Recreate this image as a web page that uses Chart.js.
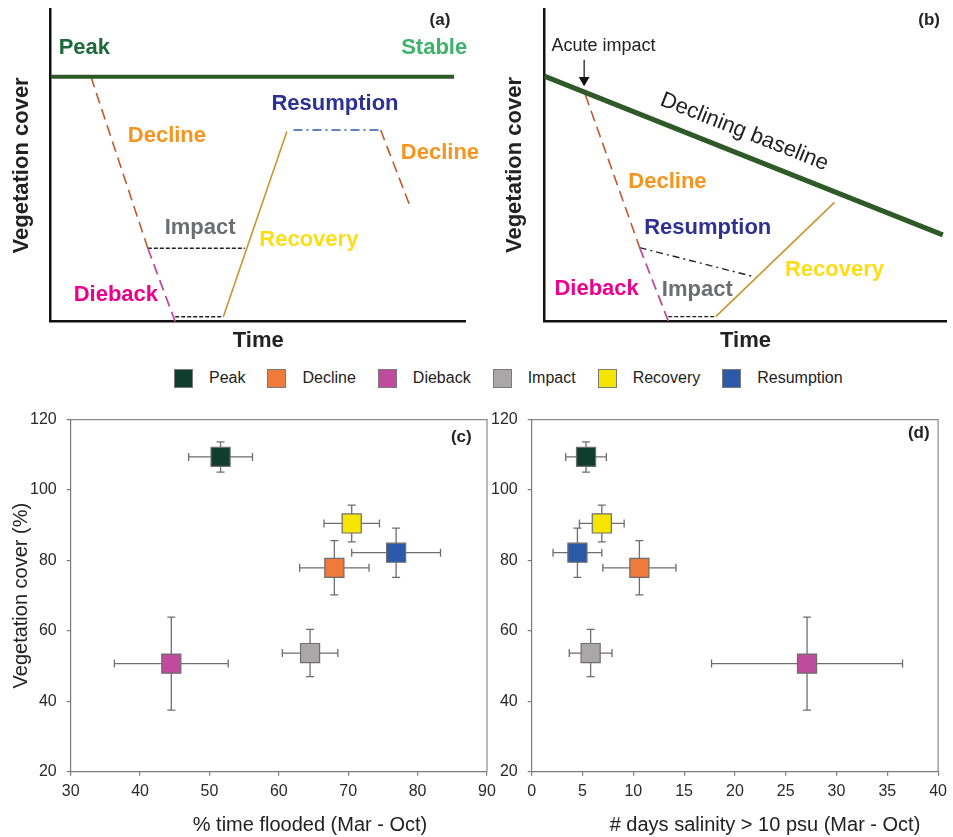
<!DOCTYPE html>
<html>
<head>
<meta charset="utf-8">
<script src="https://cdn.jsdelivr.net/npm/chart.js@4.4.1/dist/chart.umd.min.js"></script>
<style>
  body { margin: 0; background: #fff; width: 953px; height: 837px; position: relative; overflow: hidden;
         font-family: 'Liberation Sans', Arial, sans-serif; }
  canvas { position: absolute; }
  #legend { position: absolute; left: 174px; top: 368px; height: 20px; display: flex; align-items: center;
            font-size: 16px; color: #222; }
  .sw { width: 17px; height: 17px; border: 1px solid #7a7a7a; margin-right: 16px; }
  .lab { margin-right: 22px; }
</style>
</head>
<body>
<canvas id="chartA" width="480" height="360" style="left:0;top:0"></canvas>
<canvas id="chartB" width="473" height="360" style="left:480px;top:0"></canvas>
<div id="legend"></div>
<canvas id="chartC" width="505" height="437" style="left:0;top:400px"></canvas>
<canvas id="chartD" width="463" height="437" style="left:490px;top:400px"></canvas>
<script>
// categories and measured values (panels c, d)
const categories = ['Peak', 'Decline', 'Dieback', 'Impact', 'Recovery', 'Resumption'];
const categoryColors = ['#0f3e2f', '#ee7a3b', '#c04b9c', '#a9a7a7', '#f6e500', '#2c5aa8'];
const coverMean = [109.4, 77.9, 50.7, 53.7, 90.5, 82.2];
const coverErr = [4.3, 7.7, 13.2, 6.7, 5.2, 7.0];
const floodMean = [51.6, 68.0, 44.5, 64.5, 70.5, 76.9];
const floodErr = [4.6, 5.0, 8.2, 4.0, 4.0, 6.4];
const salinityMean = [5.35, 10.6, 27.1, 5.8, 6.9, 4.5];
const salinityErr = [2.0, 3.6, 9.4, 2.1, 2.2, 2.4];
const coverTicks = [20, 40, 60, 80, 100, 120];
const floodTicks = [30, 40, 50, 60, 70, 80, 90];
const salinityTicks = [0, 5, 10, 15, 20, 25, 30, 35, 40];

// conceptual trajectories (panels a, b), in 0-100 units of time / cover
const aPeak = [[0, 78.3], [97.2, 78.3]];
const aDecline = [[9.7, 78.3], [23.4, 23.5]];
const aDieback = [[23.4, 23.5], [30.0, 0]];
const aImpact = [[23.4, 23.5], [46.8, 23.5]];
const aBottom = [[30.0, 1.6], [41.6, 1.6]];
const aRecovery = [[41.6, 1.6], [56.9, 60.8]];
const aResumption = [[58.5, 61.3], [79.5, 61.3]];
const aDecline2 = [[79.5, 61.3], [86.6, 36.9]];

const bBaseline = [[0, 78.5], [99, 27.6]];
const bArrow = [[9.9, 83.7], [9.9, 77.2]];
const bDecline = [[10.2, 72.5], [23.7, 23.5]];
const bDieback = [[23.7, 23.5], [30.8, 0]];
const bResumption = [[23.7, 23.5], [51.5, 14.4]];
const bBottom = [[30.8, 1.4], [42.6, 1.4]];
const bRecovery = [[42.6, 1.4], [72.1, 38.0]];

Chart.defaults.font.family = "'Liberation Sans', Arial, sans-serif";
Chart.defaults.color = '#222';

const textLabels = {
  id: 'textLabels',
  afterDatasetsDraw(chart, args, opts) {
    const ctx = chart.ctx;
    const xs = chart.scales.x, ys = chart.scales.y;
    (opts.items || []).forEach(it => {
      const px = it.px !== undefined ? it.px : xs.getPixelForValue(it.x);
      const py = it.py !== undefined ? it.py : ys.getPixelForValue(it.y);
      ctx.save();
      ctx.translate(px, py);
      if (it.rotate) ctx.rotate(it.rotate * Math.PI / 180);
      ctx.font = it.font;
      ctx.fillStyle = it.color || '#222';
      ctx.textAlign = 'center';
      ctx.textBaseline = 'middle';
      ctx.fillText(it.text, 0, 0);
      ctx.restore();
    });
  }
};

const errorBars = {
  id: 'errorBars',
  beforeDatasetsDraw(chart, args, opts) {
    const ctx = chart.ctx, xs = chart.scales.x, ys = chart.scales.y;
    const data = chart.data.datasets[0].data;
    const c = 4;
    ctx.save();
    ctx.strokeStyle = '#6e6e6e';
    ctx.lineWidth = 1.3;
    ctx.beginPath();
    data.forEach((p, i) => {
      const cx = xs.getPixelForValue(p.x), cy = ys.getPixelForValue(p.y);
      const x0 = xs.getPixelForValue(p.x - opts.xErr[i]), x1 = xs.getPixelForValue(p.x + opts.xErr[i]);
      const y0 = ys.getPixelForValue(p.y - opts.yErr[i]), y1 = ys.getPixelForValue(p.y + opts.yErr[i]);
      ctx.moveTo(x0, cy); ctx.lineTo(x1, cy);
      ctx.moveTo(x0, cy - c); ctx.lineTo(x0, cy + c);
      ctx.moveTo(x1, cy - c); ctx.lineTo(x1, cy + c);
      ctx.moveTo(cx, y0); ctx.lineTo(cx, y1);
      ctx.moveTo(cx - c, y0); ctx.lineTo(cx + c, y0);
      ctx.moveTo(cx - c, y1); ctx.lineTo(cx + c, y1);
    });
    ctx.stroke();
    ctx.restore();
  },
  afterDraw(chart) {
    const {ctx, chartArea: a} = chart;
    ctx.save();
    ctx.strokeStyle = '#8a8a8a';
    ctx.lineWidth = 1.2;
    ctx.beginPath();
    ctx.moveTo(a.left, a.top); ctx.lineTo(a.right, a.top); ctx.lineTo(a.right, a.bottom);
    ctx.stroke();
    ctx.restore();
  }
};

function seg(points, color, width, dash) {
  return {
    data: points.map(p => ({x: p[0], y: p[1]})),
    showLine: true, borderColor: color, borderWidth: width, borderDash: dash || [],
    pointRadius: 0, fill: false
  };
}

function conceptScales(yWidth, yTitlePad, xHeight, xTitlePad) {
  return {
    x: {
      type: 'linear', min: 0, max: 100,
      ticks: {display: false}, grid: {display: false},
      border: {color: '#111', width: 2.5},
      title: {display: true, text: 'Time', color: '#222', font: {size: 22, weight: 'bold'},
              padding: {top: 0, bottom: xTitlePad}},
      afterFit(s) { s.height = xHeight; }
    },
    y: {
      type: 'linear', min: 0, max: 100,
      ticks: {display: false}, grid: {display: false},
      border: {color: '#111', width: 2.5},
      title: {display: true, text: 'Vegetation cover', color: '#222', font: {size: 22, weight: 'bold'},
              padding: {top: yTitlePad, bottom: 0}},
      afterFit(s) { s.width = yWidth; }
    }
  };
}

const bold22 = "bold 22px 'Liberation Sans', Arial, sans-serif";

new Chart(document.getElementById('chartA'), {
  type: 'scatter',
  data: {
    datasets: [
      seg(aPeak, '#2e5a27', 4),
      seg(aDecline, '#c4582b', 1.6, [11, 6]),
      seg(aDieback, '#c04ba0', 1.8, [11, 6]),
      seg(aImpact, '#222', 1.4, [4, 2]),
      seg(aBottom, '#222', 1.4, [4, 2]),
      seg(aRecovery, '#c8962d', 1.6),
      seg(aResumption, '#2a5bb5', 1.4, [9, 4, 2, 4]),
      seg(aDecline2, '#c4582b', 1.6, [11, 6])
    ]
  },
  options: {
    responsive: false, animation: false,
    layout: {padding: {top: 9, right: 14.3, left: 0, bottom: 0}},
    scales: conceptScales(50.7, 8.8, 38.3, 5.8),
    plugins: {
      legend: {display: false}, tooltip: {enabled: false},
      textLabels: {items: [
        {text: '(a)', x: 93.8, y: 96.5, font: "bold 17px 'Liberation Sans', Arial, sans-serif", color: '#222'},
        {text: 'Peak', x: 8.1, y: 87.5, font: bold22, color: '#1d6b3b'},
        {text: 'Stable', x: 92.4, y: 87.5, font: bold22, color: '#3db36b'},
        {text: 'Resumption', x: 68.5, y: 69.6, font: bold22, color: '#2e3192'},
        {text: 'Decline', x: 28.0, y: 59.4, font: bold22, color: '#f7941d'},
        {text: 'Decline', x: 93.8, y: 54.0, font: bold22, color: '#f7941d'},
        {text: 'Impact', x: 36.0, y: 30.0, font: bold22, color: '#6d6e71'},
        {text: 'Recovery', x: 62.2, y: 26.1, font: bold22, color: '#ffdd15'},
        {text: 'Dieback', x: 15.7, y: 8.5, font: bold22, color: '#ec008c'}
      ]}
    }
  },
  plugins: [textLabels]
});

const bArrowSet = seg(bArrow, '#111', 1.2);
bArrowSet.pointStyle = 'triangle';
bArrowSet.pointRadius = [0, 5];
bArrowSet.pointRotation = 180;
bArrowSet.pointBackgroundColor = '#111';
bArrowSet.pointBorderColor = '#111';

new Chart(document.getElementById('chartB'), {
  type: 'scatter',
  data: {
    datasets: [
      seg(bBaseline, '#2e5a27', 5),
      bArrowSet,
      seg(bDecline, '#c4582b', 1.6, [11, 6]),
      seg(bDieback, '#c04ba0', 1.8, [11, 6]),
      seg(bResumption, '#222', 1.4, [7, 4, 2, 4]),
      seg(bBottom, '#222', 1.4, [4, 2]),
      seg(bRecovery, '#c8962d', 1.6)
    ]
  },
  options: {
    responsive: false, animation: false,
    layout: {padding: {top: 9, right: 3, left: 0, bottom: 0}},
    scales: conceptScales(64.3, 21.8, 39, 5.8),
    plugins: {
      legend: {display: false}, tooltip: {enabled: false},
      textLabels: {items: [
        {text: '(b)', x: 95.6, y: 96.5, font: "bold 17px 'Liberation Sans', Arial, sans-serif", color: '#222'},
        {text: 'Acute impact', x: 14.7, y: 88.2, font: "18px 'Liberation Sans', Arial, sans-serif", color: '#222'},
        {text: 'Declining baseline', x: 49.7, y: 60.6, rotate: 21.6, font: "22px 'Liberation Sans', Arial, sans-serif", color: '#222'},
        {text: 'Decline', x: 30.6, y: 44.6, font: bold22, color: '#f7941d'},
        {text: 'Resumption', x: 40.6, y: 29.8, font: bold22, color: '#2e3192'},
        {text: 'Recovery', x: 72.1, y: 16.3, font: bold22, color: '#ffdd15'},
        {text: 'Dieback', x: 13.0, y: 10.3, font: bold22, color: '#ec008c'},
        {text: 'Impact', x: 38.0, y: 9.9, font: bold22, color: '#6d6e71'}
      ]}
    }
  },
  plugins: [textLabels]
});

// shared legend
const legend = document.getElementById('legend');
categories.forEach((name, i) => {
  const sw = document.createElement('div');
  sw.className = 'sw';
  sw.style.background = categoryColors[i];
  const lab = document.createElement('span');
  lab.className = 'lab';
  lab.textContent = name;
  legend.appendChild(sw);
  legend.appendChild(lab);
});

function dataScales(xTicks, yWidth, yTitle) {
  const axisGrid = {display: true, drawOnChartArea: false, drawTicks: true, tickLength: 4, color: '#7a7a7a', lineWidth: 1.2};
  return {
    x: {
      type: 'linear', min: xTicks[0], max: xTicks[xTicks.length - 1],
      ticks: {stepSize: xTicks[1] - xTicks[0], padding: 6, color: '#2a2a2a', font: {size: 16}},
      grid: axisGrid, border: {color: '#7a7a7a', width: 1.2},
      afterFit(s) { s.height = 65.3; }
    },
    y: {
      type: 'linear', min: coverTicks[0], max: coverTicks[coverTicks.length - 1],
      ticks: {stepSize: coverTicks[1] - coverTicks[0], padding: 10, color: '#2a2a2a', font: {size: 16}},
      grid: axisGrid, border: {color: '#7a7a7a', width: 1.2},
      title: {display: !!yTitle, text: yTitle || '', color: '#222', font: {size: 20},
              padding: {top: 9.7, bottom: 0}},
      afterFit(s) { s.width = yWidth; }
    }
  };
}

function pointSet(xVals) {
  return {
    data: xVals.map((v, i) => ({x: v, y: coverMean[i]})),
    pointStyle: 'rect', pointRadius: 13.5, pointBackgroundColor: categoryColors,
    pointBorderColor: '#6d6d6d', pointBorderWidth: 1.2
  };
}

new Chart(document.getElementById('chartC'), {
  type: 'scatter',
  data: {datasets: [pointSet(floodMean)]},
  options: {
    responsive: false, animation: false,
    layout: {padding: {top: 15.7, right: 18, left: 0, bottom: 0}},
    scales: dataScales(floodTicks, 70.7, 'Vegetation cover (%)'),
    plugins: {
      legend: {display: false}, tooltip: {enabled: false},
      errorBars: {xErr: floodErr, yErr: coverErr},
      textLabels: {items: [
        {text: '(c)', x: 86.3, y: 115.1, font: "bold 17px 'Liberation Sans', Arial, sans-serif", color: '#222'},
        {text: '% time flooded (Mar - Oct)', px: 310, py: 425, font: "20px 'Liberation Sans', Arial, sans-serif", color: '#222'}
      ]}
    }
  },
  plugins: [errorBars, textLabels]
});

new Chart(document.getElementById('chartD'), {
  type: 'scatter',
  data: {datasets: [pointSet(salinityMean)]},
  options: {
    responsive: false, animation: false,
    layout: {padding: {top: 15.7, right: 5.3, left: 0, bottom: 0}},
    scales: dataScales(salinityTicks, 41.7, null),
    plugins: {
      legend: {display: false}, tooltip: {enabled: false},
      errorBars: {xErr: salinityErr, yErr: coverErr},
      textLabels: {items: [
        {text: '(d)', x: 38.1, y: 116.0, font: "bold 17px 'Liberation Sans', Arial, sans-serif", color: '#222'},
        {text: '# days salinity > 10 psu (Mar - Oct)', px: 275, py: 425, font: "20px 'Liberation Sans', Arial, sans-serif", color: '#222'}
      ]}
    }
  },
  plugins: [errorBars, textLabels]
});
</script>
</body>
</html>
